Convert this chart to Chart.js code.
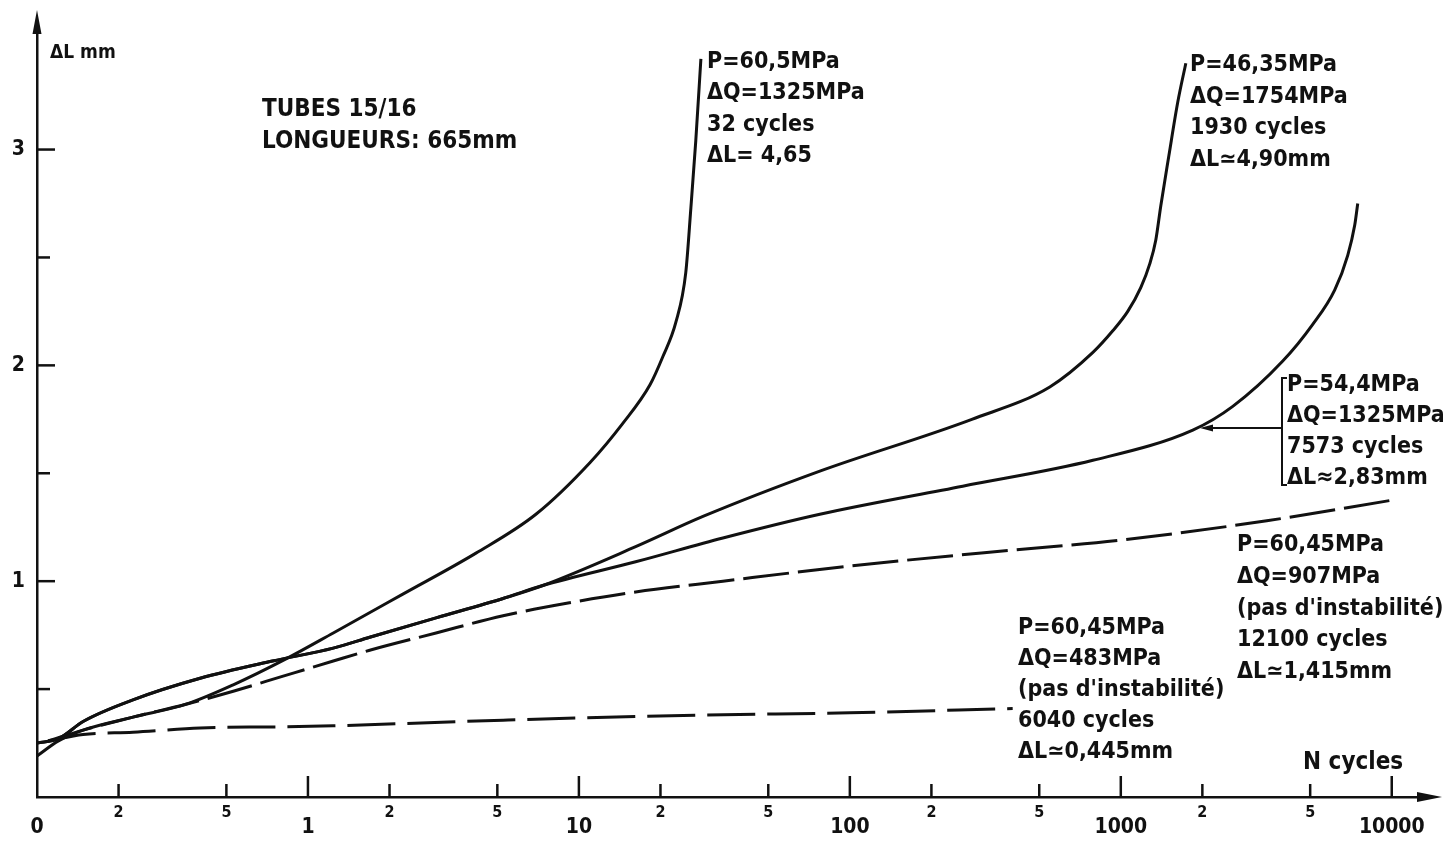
<!DOCTYPE html>
<html>
<head>
<meta charset="utf-8">
<title>ΔL mm / N cycles</title>
<script src="https://cdn.jsdelivr.net/npm/chart.js@4.4.1/dist/chart.umd.min.js"></script>
<style>
  html, body { margin:0; padding:0; background:#fff; }
  #wrap { position:relative; width:1443px; height:841px; }
</style>
</head>
<body>
<div id="wrap"><canvas id="c"></canvas></div>
<script>
// axes
const X_MIN = 0.1;
const X_MAX = 12500;
const Y_MAX = 3.54;
const X_TICK_VALUES = [0.1, 0.2, 0.5, 1, 2, 5, 10, 20, 50, 100, 200, 500, 1000, 2000, 5000, 10000];
const X_TICK_LABELS = ['0', '2', '5', '1', '2', '5', '10', '2', '5', '100', '2', '5', '1000', '2', '5', '10000'];
const X_MAJOR = [0.1, 1, 10, 100, 1000, 10000];
const Y_TICK_VALUES = [0.5, 1, 1.5, 2, 2.5, 3];
const Y_TICK_LABELS = ['', '1', '', '2', '', '3'];

// P=60,5MPa, 32 cycles (solid)
const A_N  = [0.1, 0.12, 0.148, 0.226, 0.355, 0.53, 0.83, 1.24, 2.24, 4.17, 6.94, 11.0, 14.5, 18.3, 20.4, 22.8, 24.8, 25.9, 27.0, 28.2];
const A_DL = [0.19, 0.26, 0.31, 0.37, 0.43, 0.52, 0.64, 0.76, 0.94, 1.13, 1.31, 1.55, 1.73, 1.91, 2.04, 2.20, 2.43, 2.73, 3.04, 3.42];

// common start of the 1930 and 7573 cycle curves
const COMMON_N  = [0.1, 0.12, 0.148, 0.226, 0.40, 0.74, 1.24, 1.69, 2.97, 5.25, 7.36];
const COMMON_DL = [0.25, 0.27, 0.35, 0.45, 0.55, 0.63, 0.69, 0.74, 0.83, 0.92, 0.98];

// P=46,35MPa, 1930 cycles (solid)
const B_N  = COMMON_N.concat([16.2, 28.7, 77.5, 282, 547, 789, 934, 1061, 1185, 1279, 1346, 1405, 1504, 1623, 1738]);
const B_DL = COMMON_DL.concat([1.16, 1.30, 1.51, 1.75, 1.90, 2.06, 2.16, 2.25, 2.36, 2.47, 2.58, 2.74, 2.97, 3.22, 3.40]);

// P=54,4MPa, 7573 cycles (solid)
const C_N  = COMMON_N.concat([16.2, 34, 77.5, 261, 789, 1844, 2590, 3961, 5110, 6162, 6880, 7302, 7490]);
const C_DL = COMMON_DL.concat([1.09, 1.20, 1.31, 1.44, 1.56, 1.70, 1.81, 2.02, 2.19, 2.35, 2.51, 2.65, 2.75]);

// P=60,45MPa, dQ=907MPa, 12100 cycles (dashed)
const D_N  = [0.11, 0.148, 0.226, 0.355, 0.53, 0.81, 1.24, 1.69, 2.97, 5.25, 9.24, 16.2, 34, 100, 366, 1000, 3458, 10000];
const D_DL = [0.26, 0.31, 0.37, 0.43, 0.49, 0.56, 0.63, 0.68, 0.76, 0.84, 0.90, 0.95, 1.00, 1.07, 1.14, 1.19, 1.28, 1.375];

// P=60,45MPa, dQ=483MPa, 6040 cycles (dashed)
const E_N  = [0.11, 0.148, 0.226, 0.40, 0.77, 1.24, 5.25, 28.7, 100, 399];
const E_DL = [0.26, 0.29, 0.30, 0.32, 0.325, 0.33, 0.356, 0.38, 0.39, 0.41];

const INK = '#111';
const TXT_FONT = '"DejaVu Sans Condensed", "DejaVu Sans", sans-serif';
const TICK_FONT = '"DejaVu Sans Condensed", "DejaVu Sans", sans-serif';

const NOTES = [
  { x: 50,   y: 53,  size: 19, lh: 30, lines: ['ΔL mm'] },
  { x: 262,  y: 110, size: 24, lh: 32, lines: ['TUBES 15/16', 'LONGUEURS: 665mm'] },
  { x: 707,  y: 62,  size: 23, lh: 31.5, lines: ['P=60,5MPa', 'ΔQ=1325MPa', '32 cycles', 'ΔL= 4,65'] },
  { x: 1190, y: 65,  size: 23, lh: 31.7, lines: ['P=46,35MPa', 'ΔQ=1754MPa', '1930 cycles', 'ΔL≃4,90mm'] },
  { x: 1287, y: 385, size: 23, lh: 31, lines: ['P=54,4MPa', 'ΔQ=1325MPa', '7573 cycles', 'ΔL≈2,83mm'] },
  { x: 1237, y: 545, size: 23, lh: 31.8, lines: ['P=60,45MPa', 'ΔQ=907MPa', "(pas d'instabilité)", '12100 cycles', 'ΔL≃1,415mm'] },
  { x: 1018, y: 628, size: 23, lh: 31, lines: ['P=60,45MPa', 'ΔQ=483MPa', "(pas d'instabilité)", '6040 cycles', 'ΔL≃0,445mm'] },
  { x: 1303, y: 763, size: 24, lh: 30, lines: ['N cycles'] }
];

function pts(ns, dls){ return ns.map((n, i) => ({ x: n, y: dls[i] })); }

function curve(label, ns, dls, dash){
  return {
    label,
    data: pts(ns, dls),
    borderColor: INK,
    borderWidth: 3,
    borderDash: dash || [],
    pointRadius: 0,
    fill: false,
    cubicInterpolationMode: 'monotone'
  };
}

function seg(ctx, x1, y1, x2, y2){
  ctx.beginPath(); ctx.moveTo(x1, y1); ctx.lineTo(x2, y2); ctx.stroke();
}

const decor = {
  id: 'decor',
  afterDraw(chart){
    const { ctx, chartArea: a, scales: { x, y } } = chart;
    ctx.save();
    ctx.strokeStyle = INK; ctx.fillStyle = INK; ctx.lineWidth = 2.5;

    // tick marks pointing into the plot
    X_TICK_VALUES.forEach(v => {
      if (v === X_MIN) return;
      const px = x.getPixelForValue(v);
      seg(ctx, px, a.bottom, px, a.bottom - (X_MAJOR.includes(v) ? 21 : 13));
    });
    Y_TICK_VALUES.forEach(v => {
      const py = y.getPixelForValue(v);
      seg(ctx, a.left, py, a.left + (Number.isInteger(v) ? 18 : 13), py);
    });

    // axis arrows
    ctx.beginPath();
    ctx.moveTo(a.left, a.top - 23); ctx.lineTo(a.left - 4.5, a.top + 1); ctx.lineTo(a.left + 4.5, a.top + 1);
    ctx.closePath(); ctx.fill();
    ctx.beginPath();
    ctx.moveTo(a.right + 24, a.bottom); ctx.lineTo(a.right - 1, a.bottom - 5); ctx.lineTo(a.right - 1, a.bottom + 5);
    ctx.closePath(); ctx.fill();

    // bracket + arrow for the 7573 cycles note
    ctx.lineWidth = 2;
    ctx.beginPath();
    ctx.moveTo(1287, 378); ctx.lineTo(1282, 378); ctx.lineTo(1282, 485); ctx.lineTo(1287, 485);
    ctx.stroke();
    seg(ctx, 1282, 428, 1210, 428);
    ctx.beginPath();
    ctx.moveTo(1200, 428); ctx.lineTo(1213, 424.5); ctx.lineTo(1213, 431.5);
    ctx.closePath(); ctx.fill();

    // text notes
    ctx.textBaseline = 'middle';
    ctx.textAlign = 'left';
    NOTES.forEach(n => {
      ctx.font = 'bold ' + n.size + 'px ' + TXT_FONT;
      n.lines.forEach((t, i) => ctx.fillText(t, n.x, n.y + i * n.lh));
    });
    ctx.restore();
  }
};

new Chart(document.getElementById('c'), {
  type: 'line',
  data: {
    datasets: [
      curve('32 cycles', A_N, A_DL),
      curve('1930 cycles', B_N, B_DL),
      curve('7573 cycles', C_N, C_DL),
      curve('12100 cycles', D_N, D_DL, [46, 9]),
      curve('6040 cycles', E_N, E_DL, [48, 12])
    ]
  },
  options: {
    responsive: true,
    maintainAspectRatio: false,
    animation: false,
    events: [],
    layout: { padding: { top: 33, right: 25, left: 0, bottom: 0 } },
    plugins: { legend: { display: false }, tooltip: { enabled: false }, title: { display: false } },
    scales: {
      x: {
        type: 'logarithmic',
        min: X_MIN, max: X_MAX,
        grid: { display: false, drawTicks: false },
        border: { display: true, color: INK, width: 2.5 },
        afterBuildTicks: s => { s.ticks = X_TICK_VALUES.map(v => ({ value: v })); },
        afterFit: s => { s.height = 44; },
        ticks: {
          autoSkip: false, maxRotation: 0, minRotation: 0, padding: 3,
          color: INK,
          font: c => (c.tick && X_MAJOR.includes(c.tick.value))
            ? { family: TICK_FONT, size: 21, weight: 'bold', lineHeight: 2.6 }
            : { family: TICK_FONT, size: 16, weight: 'bold', lineHeight: 1.65 },
          callback: v => X_TICK_LABELS[X_TICK_VALUES.indexOf(v)]
        }
      },
      y: {
        type: 'linear',
        min: 0, max: Y_MAX,
        grid: { display: false, drawTicks: false },
        border: { display: true, color: INK, width: 2.5 },
        afterBuildTicks: s => { s.ticks = Y_TICK_VALUES.map(v => ({ value: v })); },
        afterFit: s => { s.width = 37; },
        ticks: {
          padding: 12,
          color: INK,
          font: { family: TICK_FONT, size: 21, weight: 'bold' },
          callback: v => Y_TICK_LABELS[Y_TICK_VALUES.indexOf(v)]
        }
      }
    }
  },
  plugins: [decor]
});
</script>
</body>
</html>
